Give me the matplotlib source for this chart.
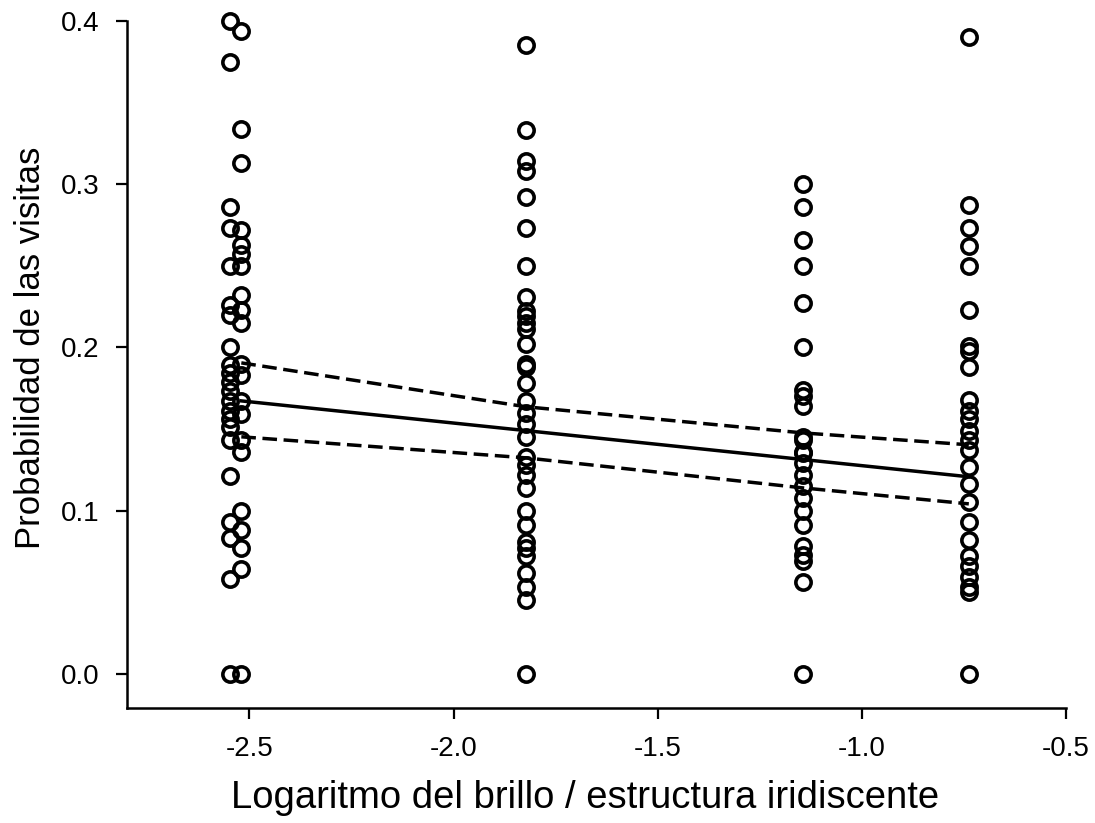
import matplotlib
matplotlib.use("Agg")
import matplotlib.pyplot as plt

plt.rcParams['font.family'] = ['Liberation Sans', 'DejaVu Sans']

# Brightness levels (log scale) of the four iridescent structures
x_group1a = -2.547
x_group1b = -2.520
x_group2 = -1.823
x_group3 = -1.145
x_group4 = -0.738

# Visit probabilities observed at each level
y_group1a = [0.400, 0.375, 0.286, 0.273, 0.250, 0.226, 0.220, 0.200, 0.189,
             0.184, 0.179, 0.173, 0.167, 0.161, 0.156, 0.151, 0.143, 0.121,
             0.093, 0.083, 0.058, 0.0]
y_group1b = [0.394, 0.334, 0.313, 0.272, 0.263, 0.257, 0.250, 0.232, 0.223,
             0.215, 0.190, 0.183, 0.167, 0.159, 0.143, 0.136, 0.100, 0.088,
             0.077, 0.064, 0.0]
y_group2 = [0.385, 0.333, 0.314, 0.308, 0.292, 0.273, 0.250, 0.231, 0.222,
            0.219, 0.215, 0.211, 0.202, 0.190, 0.188, 0.178, 0.167, 0.160,
            0.153, 0.145, 0.133, 0.128, 0.122, 0.114, 0.100, 0.091, 0.081,
            0.077, 0.072, 0.062, 0.053, 0.045, 0.0]
y_group3 = [0.300, 0.286, 0.266, 0.250, 0.227, 0.200, 0.174, 0.170, 0.164,
            0.145, 0.143, 0.136, 0.135, 0.129, 0.122, 0.115, 0.108, 0.100,
            0.091, 0.078, 0.073, 0.069, 0.056, 0.0]
y_group4 = [0.390, 0.287, 0.273, 0.262, 0.250, 0.223, 0.201, 0.198, 0.188,
            0.168, 0.161, 0.156, 0.149, 0.143, 0.137, 0.127, 0.116, 0.105,
            0.093, 0.082, 0.072, 0.066, 0.059, 0.053, 0.050, 0.0]

# Fitted model and its confidence band
fit_x = [-2.520, -1.823, -1.145, -0.738]
fit_y = [0.1672, 0.1490, 0.1313, 0.1207]
ci_upper = [0.1905, 0.1636, 0.1476, 0.1403]
ci_lower = [0.1452, 0.1323, 0.1139, 0.1041]

x_ticks = [-2.5, -2.0, -1.5, -1.0, -0.5]
y_ticks = [0.0, 0.1, 0.2, 0.3, 0.4]

fig = plt.figure(figsize=(10.95, 8.23), dpi=100)
ax = fig.add_axes([0.116, 0.1397, 0.8575, 0.8348])

marker_kw = dict(marker='o', markersize=11, markerfacecolor='none',
                 markeredgecolor='black', markeredgewidth=2.6,
                 linestyle='none', clip_on=False, zorder=3)
for xv, ys in [(x_group1a, y_group1a), (x_group1b, y_group1b),
               (x_group2, y_group2), (x_group3, y_group3),
               (x_group4, y_group4)]:
    ax.plot([xv] * len(ys), ys, **marker_kw)

ax.plot(fit_x, fit_y, color='black', lw=2.5, zorder=4)
ax.plot(fit_x, ci_upper, color='black', lw=2.5, dashes=(4.2, 1.9), zorder=4)
ax.plot(fit_x, ci_lower, color='black', lw=2.5, dashes=(4.2, 1.9), zorder=4)

ax.set_xlim(-2.8, -0.5)
ax.set_ylim(-0.021, 0.4)
ax.set_xticks(x_ticks)
ax.set_xticklabels([f"{t:.1f}" for t in x_ticks])
ax.set_yticks(y_ticks)
ax.set_yticklabels([f"{t:.1f}" for t in y_ticks])

for side in ('top', 'right'):
    ax.spines[side].set_visible(False)
for side in ('left', 'bottom'):
    ax.spines[side].set_linewidth(1.8)

ax.tick_params(axis='both', direction='out', length=8, width=1.6,
               labelsize=20)
ax.tick_params(axis='x', pad=12)
ax.tick_params(axis='y', pad=12)

ax.set_xlabel("Logaritmo del brillo / estructura iridiscente",
              fontsize=27.5)
ax.set_ylabel("Probabilidad de las visitas", fontsize=25)
ax.xaxis.set_label_coords(0.488, -0.105)
ax.yaxis.set_label_coords(-0.085, 0.525)
ax.xaxis.label.set_verticalalignment('top')

fig.savefig("out.png", dpi=100)
